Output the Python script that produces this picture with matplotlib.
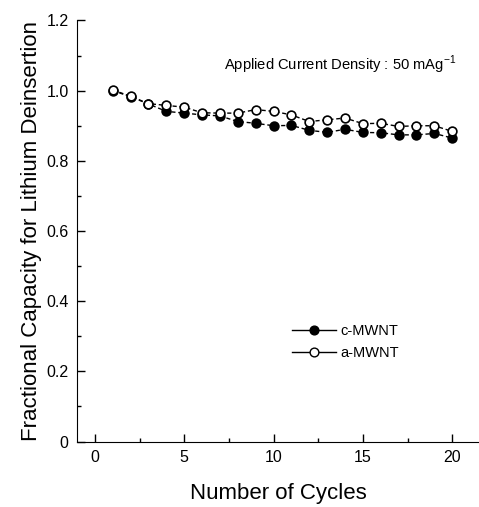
import matplotlib.pyplot as plt
from matplotlib.lines import Line2D
from matplotlib.ticker import MultipleLocator, FuncFormatter

plt.rcParams['font.family'] = ['Liberation Sans', 'DejaVu Sans']

# data
cycles = list(range(1, 21))
c_mwnt = [1.0, 0.983, 0.962, 0.941, 0.936, 0.931, 0.928, 0.912, 0.907, 0.900,
          0.901, 0.887, 0.881, 0.890, 0.881, 0.880, 0.874, 0.874, 0.878, 0.865]
a_mwnt = [1.002, 0.984, 0.963, 0.958, 0.953, 0.937, 0.936, 0.936, 0.946, 0.941,
          0.931, 0.912, 0.917, 0.922, 0.906, 0.907, 0.898, 0.900, 0.900, 0.884]

fig = plt.figure(figsize=(4.79, 5.07), dpi=100)
ax = fig.add_axes([77 / 479, 1 - 441.5 / 507, 402 / 479, 421 / 507])

ax.plot(cycles, c_mwnt, color='black', linestyle=(0, (3, 2)), linewidth=1,
        marker='o', markersize=6.3, markerfacecolor='black',
        markeredgecolor='black', markeredgewidth=1.2)
ax.plot(cycles, a_mwnt, color='black', linestyle=(0, (3, 2)), linewidth=1,
        marker='o', markersize=6.3, markerfacecolor='white',
        markeredgecolor='black', markeredgewidth=1.2)

ax.set_xlim(-1, 21.5)
ax.set_ylim(0, 1.2)
ax.xaxis.set_major_locator(MultipleLocator(5))
ax.xaxis.set_minor_locator(MultipleLocator(2.5))
ax.yaxis.set_major_locator(MultipleLocator(0.2))
ax.yaxis.set_minor_locator(MultipleLocator(0.1))
ax.yaxis.set_major_formatter(FuncFormatter(lambda v, p: '0' if abs(v) < 1e-9 else f'{v:.1f}'))

ax.spines['top'].set_visible(False)
ax.spines['right'].set_visible(False)
ax.tick_params(which='both', direction='in', labelsize=11.5)
ax.tick_params(which='major', length=6, width=1, pad=6)
ax.tick_params(which='minor', length=3, width=1)

ax.set_xlabel('Number of Cycles', fontsize=16, labelpad=13)
ax.set_ylabel('Fractional Capacity for Lithium Deinsertion', fontsize=16, labelpad=3)

ax.text(0.943, 0.894, r'Applied Current Density : 50 mAg$^{\mathregular{-1}}$',
        transform=ax.transAxes, ha='right', va='center', fontsize=10.6)

handles = [
    Line2D([], [], color='black', linewidth=1, marker='o', markersize=6.3,
           markerfacecolor='black', markeredgecolor='black'),
    Line2D([], [], color='black', linewidth=1, marker='o', markersize=6.3,
           markerfacecolor='white', markeredgecolor='black'),
]
ax.legend(handles, ['c-MWNT', 'a-MWNT'], loc='center left',
          bbox_to_anchor=(0.535, 0.236), frameon=False, fontsize=10.5,
          handlelength=3.0, handletextpad=0.3, labelspacing=0.55,
          borderpad=0, borderaxespad=0)

fig.savefig('out.png', dpi=100)
